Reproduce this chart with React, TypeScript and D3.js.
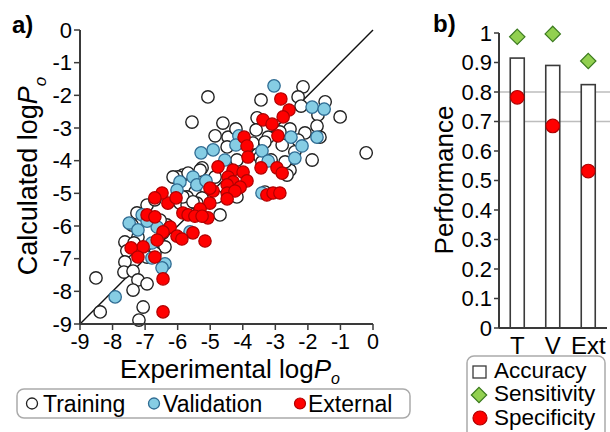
import React from "react";
import * as d3 from "d3";

// ---- panel a) data: experimental vs calculated logPo ----
const trainingExp = [
  -5.07, -3.44, -2.15, -2.30, -2.21, -1.47, -1.69, -1.01, -0.21, -1.87, -1.72, -1.63,
  -5.56, -4.61, -3.56, -3.59, -3.22, -2.55, -2.09, -4.45, -4.21, -2.40, -3.47, -2.55,
  -5.84, -5.25, -2.30, -2.86, -3.69, -3.32, -2.79, -4.85, -4.48, -3.13, -2.70, -4.18,
  -5.99, -5.68, -5.31, -5.47, -5.71, -5.25, -5.93, -6.94, -6.70, -4.79, -7.25, -7.40,
  -7.62, -7.56, -7.62, -7.65, -7.37, -7.22, -7.37, -6.94, -7.06, -7.19, -8.51, -8.38,
  -6.39, -6.70, -6.94, -6.33, -6.45, -6.54, -5.71, -5.41, -7.22, -7.34, -6.14, -5.84,
  -4.70, -4.18, -3.32, -2.64, -4.85, -5.53, -3.41,
];
const trainingCalc = [
  -2.05, -2.14, -1.74, -2.05, -2.33, -2.20, -2.60, -2.66, -3.76, -3.98, -2.94, -3.28,
  -2.82, -2.85, -2.69, -3.06, -3.28, -3.03, -3.15, -3.28, -3.03, -3.73, -3.89, -4.29,
  -4.44, -4.22, -3.37, -3.12, -3.46, -3.43, -3.52, -3.24, -3.58, -3.98, -4.04, -3.98,
  -4.50, -4.38, -4.29, -4.96, -5.11, -5.14, -5.30, -5.36, -5.20, -5.11, -5.60, -5.97,
  -6.49, -6.76, -7.10, -7.41, -7.38, -7.65, -7.96, -7.77, -8.48, -8.88, -7.59, -8.63,
  -6.64, -6.83, -6.95, -5.97, -6.21, -5.82, -5.36, -5.30, -6.34, -6.52, -4.50, -5.11,
  -5.66, -5.11, -4.96, -4.44, -4.50, -5.26, -4.04,
];

const validationExp = [
  -3.04, -1.87, -1.50, -2.52, -2.18, -1.72, -2.40, -3.41, -3.22, -4.12, -4.21, -5.28,
  -4.91, -4.55, -5.53, -5.93, -5.41, -5.13, -6.02, -7.49, -7.22, -7.09, -6.63, -6.79,
  -6.79, -6.39, -6.48, -5.62, -7.92, -6.94, -3.41,
];
const validationCalc = [
  -1.71, -2.36, -2.42, -3.28, -3.55, -3.28, -3.92, -3.70, -4.01, -3.24, -3.52, -3.76,
  -3.67, -3.98, -4.50, -4.65, -4.74, -4.62, -4.90, -5.91, -6.12, -5.66, -6.03, -6.52,
  -6.98, -7.16, -7.28, -6.18, -8.17, -5.85, -4.99,
];

const externalExp = [
  -2.83, -2.58, -2.76, -3.38, -3.10, -2.92, -3.96, -3.87, -3.84, -4.76, -4.30, -3.99,
  -3.44, -2.95, -2.79, -4.45, -3.87, -4.30, -4.48, -4.08, -4.48, -4.24, -4.91, -4.48,
  -5.01, -5.31, -5.07, -3.26, -3.07, -2.86, -5.16, -6.94, -6.70, -6.30, -5.84, -5.68,
  -5.47, -5.25, -6.23, -6.45, -6.63, -6.02, -5.87, -5.53, -7.06, -7.43, -7.22, -6.70,
  -6.45, -6.45, -6.48, -6.70, -6.05, -5.01,
];
const externalCalc = [
  -2.11, -2.45, -2.66, -2.75, -2.88, -3.24, -3.28, -3.55, -3.89, -4.19, -4.29, -4.35,
  -4.22, -4.22, -4.38, -4.50, -4.62, -4.65, -4.74, -4.81, -4.99, -4.93, -4.93, -5.17,
  -5.30, -5.48, -5.75, -5.05, -4.99, -4.99, -6.46, -5.66, -5.72, -5.30, -5.60, -5.66,
  -5.70, -5.70, -6.03, -6.18, -6.43, -6.31, -6.40, -6.21, -6.64, -6.67, -6.95, -6.95,
  -7.62, -8.63, -4.99, -5.14, -5.14, -4.84,
];

const logTicks = [-9, -8, -7, -6, -5, -4, -3, -2, -1, 0];

// ---- panel b) data: classification performance ----
const sets = ["T", "V", "Ext"];
const accuracy = [0.915, 0.89, 0.825];
const sensitivity = [0.987, 0.997, 0.905];
const specificity = [0.782, 0.685, 0.532];
const perfTicks = [0, 0.1, 0.2, 0.3, 0.4, 0.5, 0.6, 0.7, 0.8, 0.9, 1];
const perfGrid = [0.7, 0.8];

const FONT = "'Liberation Sans', Arial, sans-serif";
const AXIS = "#3a3a3a";
const BLUE = "#86cde4";
const BLUE_STROKE = "#2f6c93";
const RED = "#ff0000";
const RED_STROKE = "#b00000";
const GREEN = "#92d050";
const GREEN_STROKE = "#3b7a1f";

const zip = (xs: number[], ys: number[]) => xs.map((x, i) => [x, ys[i]] as [number, number]);

export default function App() {
  const x = d3.scaleLinear().domain([-9, 0]).range([80, 373]);
  const y = d3.scaleLinear().domain([-9, 0]).range([324, 30]);

  const py = d3.scaleLinear().domain([0, 1]).range([328, 33]);
  const px = d3.scalePoint<string>().domain(sets).range([499.5, 606]).padding(0.5);
  const barW = 14;

  const diag = d3.line<number>().x((v) => x(v)).y((v) => y(v))([-9, 0]) as string;
  const diamond = d3.symbol().type(d3.symbolDiamond2).size(150)() as string;

  const r = 6.2;

  return (
    <svg
      width={610}
      height={432}
      style={{ position: "absolute", left: 0, top: 0, background: "#fff" }}
      fontFamily={FONT}
    >
      {/* ---------- panel a ---------- */}
      <text x={12} y={33} fontSize={24} fontWeight="bold">a)</text>

      <path d={diag} stroke="#111" strokeWidth={1.4} fill="none" />

      {zip(trainingExp, trainingCalc).map(([a, b], i) => (
        <circle key={"t" + i} cx={x(a)} cy={y(b)} r={r} fill="#fff" stroke="#222" strokeWidth={1.4} />
      ))}
      {zip(validationExp, validationCalc).map(([a, b], i) => (
        <circle key={"v" + i} cx={x(a)} cy={y(b)} r={r} fill={BLUE} stroke={BLUE_STROKE} strokeWidth={1.3} />
      ))}
      {zip(externalExp, externalCalc).map(([a, b], i) => (
        <circle key={"e" + i} cx={x(a)} cy={y(b)} r={r} fill={RED} stroke={RED_STROKE} strokeWidth={1.2} />
      ))}

      {/* axes */}
      <line x1={80} x2={80} y1={y(0)} y2={y(-9)} stroke={AXIS} strokeWidth={2} />
      <line x1={x(-9)} x2={x(0)} y1={324} y2={324} stroke={AXIS} strokeWidth={2} />
      {logTicks.map((t) => (
        <g key={"yt" + t}>
          <line x1={74} x2={80} y1={y(t)} y2={y(t)} stroke={AXIS} strokeWidth={1.5} />
          <text x={72} y={y(t)} dy="0.35em" textAnchor="end" fontSize={22}>{t}</text>
        </g>
      ))}
      {logTicks.map((t) => (
        <g key={"xt" + t}>
          <line x1={x(t)} x2={x(t)} y1={324} y2={330} stroke={AXIS} strokeWidth={1.5} />
          <text x={x(t)} y={349} textAnchor="middle" fontSize={21.5}>{t}</text>
        </g>
      ))}

      <text x={230} y={377.5} textAnchor="middle" fontSize={26}>
        Experimental log<tspan fontStyle="italic">P</tspan>
        <tspan fontStyle="italic" fontSize={16} dy={6}>o</tspan>
      </text>
      <text transform="translate(37,176) rotate(-90)" textAnchor="middle" fontSize={27}>
        Calculated log<tspan fontStyle="italic">P</tspan>
        <tspan fontStyle="italic" fontSize={17} dy={9}>o</tspan>
      </text>

      {/* legend a */}
      <rect x={17} y={389} width={393} height={29} rx={7} fill="#fff" stroke="#aaa" strokeWidth={1.5} />
      <circle cx={32} cy={403.5} r={5.5} fill="#fff" stroke="#222" strokeWidth={1.3} />
      <text x={43} y={411.5} fontSize={23}>Training</text>
      <circle cx={154} cy={403.5} r={5.5} fill={BLUE} stroke={BLUE_STROKE} strokeWidth={1.3} />
      <text x={163} y={411.5} fontSize={23}>Validation</text>
      <circle cx={300} cy={403.5} r={5.5} fill={RED} stroke={RED_STROKE} strokeWidth={1.2} />
      <text x={308} y={411.5} fontSize={23}>External</text>

      {/* ---------- panel b ---------- */}
      <text x={433} y={32} fontSize={24} fontWeight="bold">b)</text>

      {perfGrid.map((g) => (
        <line key={"g" + g} x1={499} x2={610} y1={py(g)} y2={py(g)} stroke="#bdbdbd" strokeWidth={1.3} />
      ))}

      {sets.map((s, i) => (
        <rect
          key={"bar" + s}
          x={(px(s) as number) - barW / 2}
          y={py(accuracy[i])}
          width={barW}
          height={py(0) - py(accuracy[i])}
          fill="#fff"
          stroke={AXIS}
          strokeWidth={1.6}
        />
      ))}
      {sets.map((s, i) => (
        <path
          key={"sens" + s}
          d={diamond}
          transform={`translate(${px(s)},${py(sensitivity[i])})`}
          fill={GREEN}
          stroke={GREEN_STROKE}
          strokeWidth={1.2}
        />
      ))}
      {sets.map((s, i) => (
        <circle key={"spec" + s} cx={px(s)} cy={py(specificity[i])} r={6.8} fill={RED} stroke={RED_STROKE} strokeWidth={1.2} />
      ))}

      <line x1={499} x2={499} y1={py(1)} y2={py(0)} stroke={AXIS} strokeWidth={2} />
      <line x1={499} x2={607} y1={py(0)} y2={py(0)} stroke={AXIS} strokeWidth={2} />
      {perfTicks.map((t) => (
        <g key={"pt" + t}>
          <line x1={494} x2={499} y1={py(t)} y2={py(t)} stroke={AXIS} strokeWidth={1.5} />
          <text x={492} y={py(t)} dy="0.35em" textAnchor="end" fontSize={22}>{String(t)}</text>
        </g>
      ))}
      {sets.map((s) => (
        <text key={"lab" + s} x={px(s)} y={354} textAnchor="middle" fontSize={24}>{s}</text>
      ))}
      <text transform="translate(453,180) rotate(-90)" textAnchor="middle" fontSize={26}>Performance</text>

      {/* legend b */}
      <rect x={467} y={356} width={138} height={84} rx={7} fill="#fff" stroke="#aaa" strokeWidth={1.5} />
      <rect x={473} y={366} width={13} height={12} fill="#fff" stroke={AXIS} strokeWidth={1.3} />
      <text x={494} y={378} fontSize={22.5}>Accuracy</text>
      <path d={diamond} transform="translate(479,395)" fill={GREEN} stroke={GREEN_STROKE} strokeWidth={1.2} />
      <text x={494} y={401} fontSize={22.5}>Sensitivity</text>
      <circle cx={480} cy={418} r={7} fill={RED} stroke={RED_STROKE} strokeWidth={1.2} />
      <text x={494} y={425} fontSize={22.5}>Specificity</text>
    </svg>
  );
}
